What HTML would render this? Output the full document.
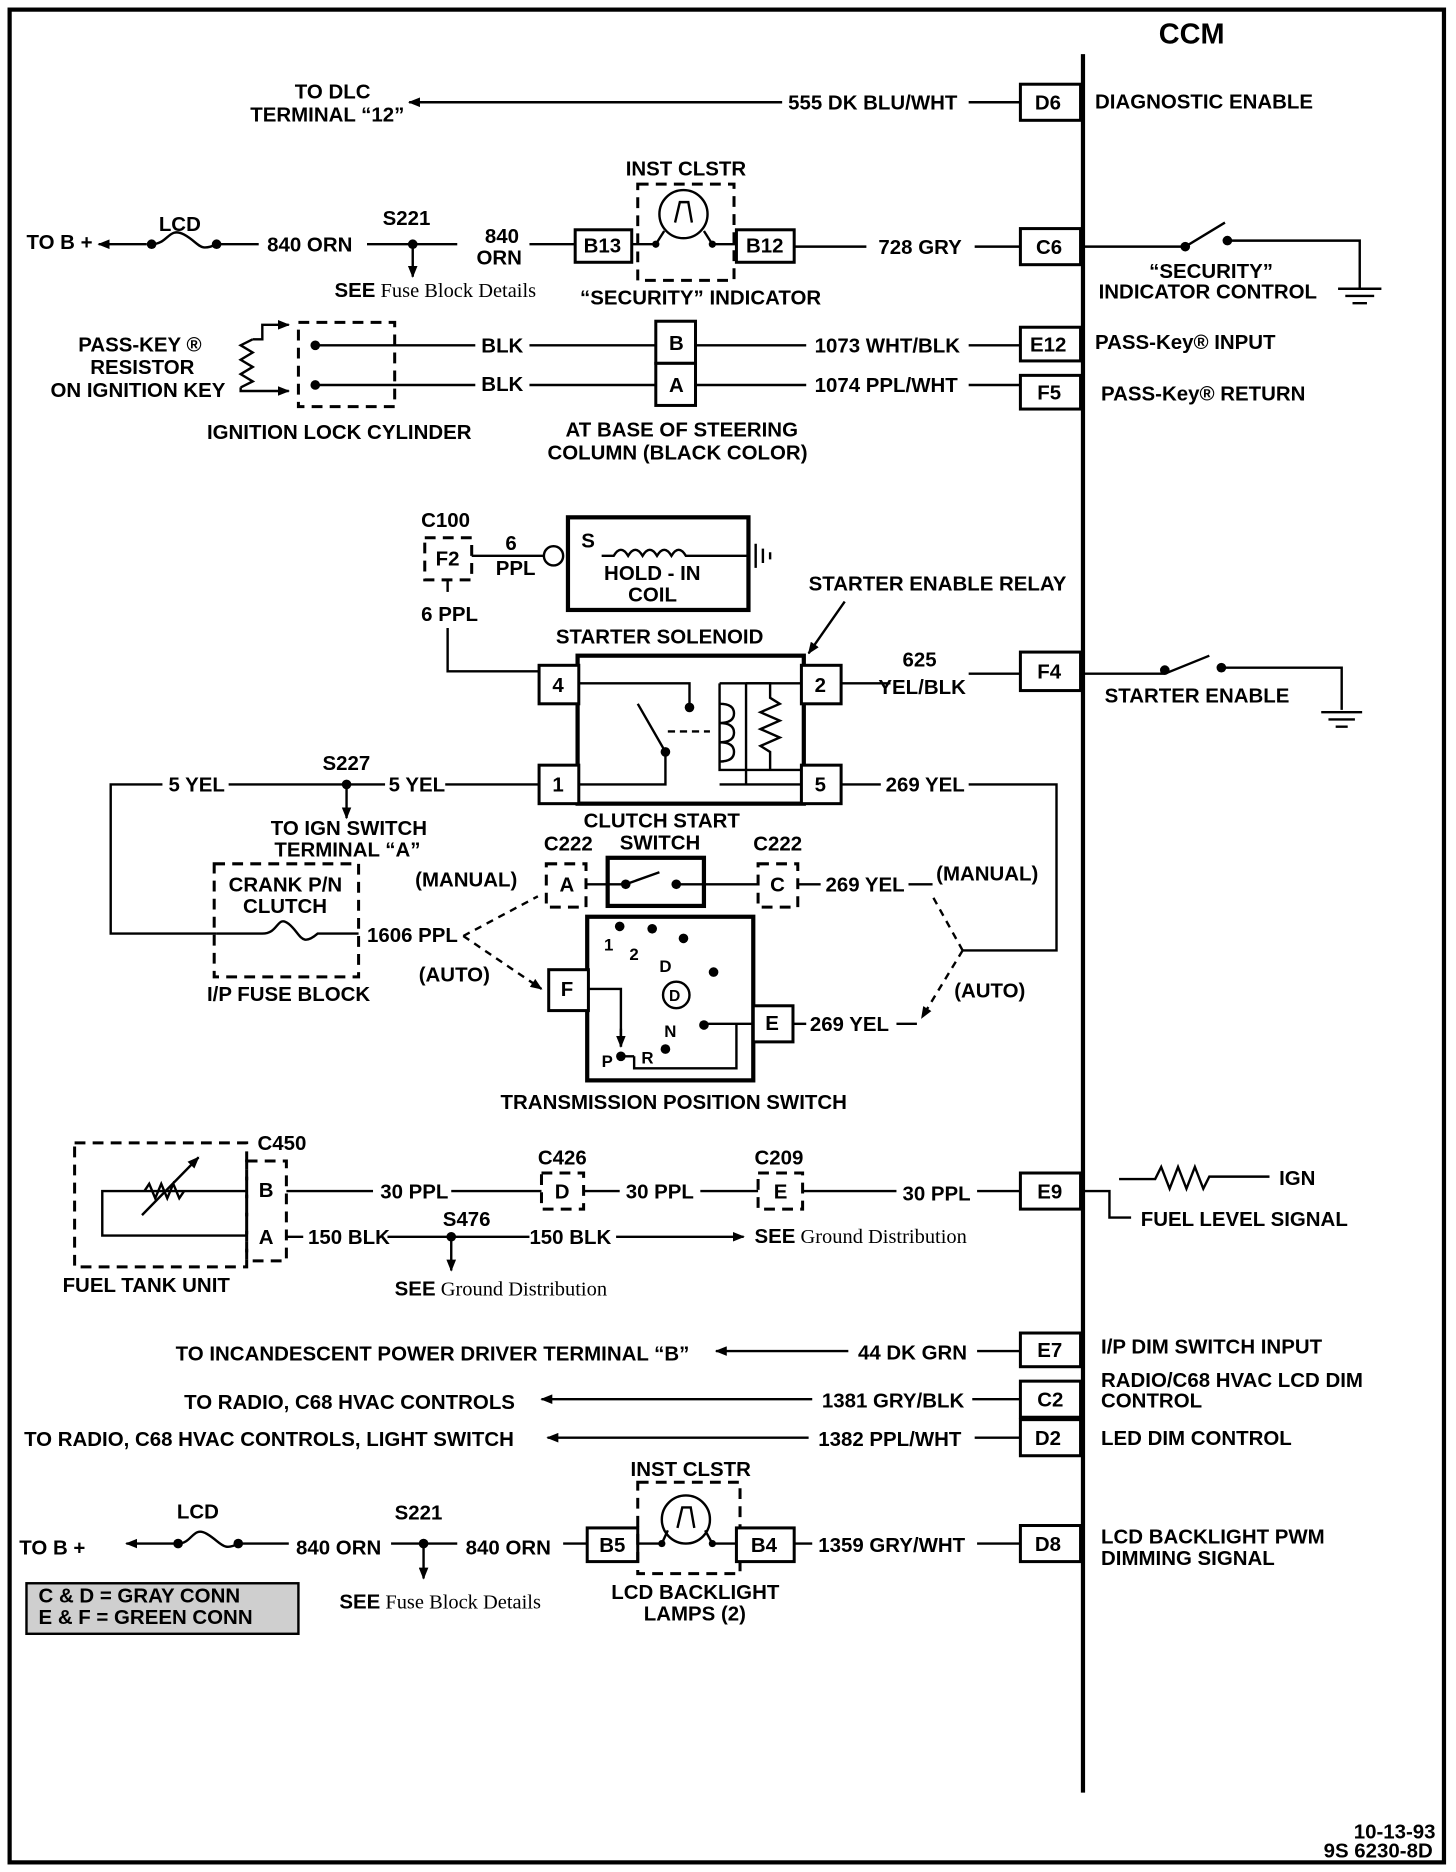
<!DOCTYPE html>
<html><head><meta charset="utf-8"><style>
html,body{margin:0;padding:0;background:#fff}
svg{display:block}
text{font-family:"Liberation Sans",sans-serif;font-weight:bold;font-size:17px;fill:#000}
.s{font-family:"Liberation Serif",serif;font-weight:normal;font-size:17px}
.l{stroke:#000;stroke-width:2;fill:none}
.t{stroke:#000;stroke-width:3.5;fill:none}
.d{stroke:#000;stroke-width:2.5;fill:none;stroke-dasharray:9 6}
.b{stroke:#000;stroke-width:2.5;fill:#fff}
</style></head><body>
<svg width="1456" height="1872" viewBox="0 0 1210 1556" preserveAspectRatio="none">
<defs><marker id="a" markerWidth="10" markerHeight="8" refX="9" refY="4" orient="auto" markerUnits="userSpaceOnUse"><path d="M0,0 L10,4 L0,8 z" fill="#000"/></marker></defs>
<rect x="8" y="8" width="1192" height="1540" class="t"/>
<line x1="900" y1="45" x2="900" y2="1490" class="t"/>
<text x="963" y="36" style="font-size:24px">CCM</text>
<g class="b">
<rect x="848" y="70" width="50" height="30"/><rect x="848" y="190" width="50" height="30"/>
<rect x="848" y="272" width="50" height="28"/><rect x="848" y="312" width="50" height="28"/>
<rect x="848" y="542" width="50" height="32"/><rect x="848" y="975" width="50" height="30"/>
<rect x="848" y="1108" width="50" height="28"/><rect x="848" y="1148" width="50" height="30"/>
<rect x="848" y="1180" width="50" height="30"/><rect x="848" y="1268" width="50" height="30"/>
</g>
<text x="860" y="91">D6</text><text x="861" y="211">C6</text><text x="856" y="292">E12</text><text x="862" y="332">F5</text>
<text x="862" y="564">F4</text><text x="862" y="996">E9</text><text x="862" y="1128">E7</text><text x="862" y="1169">C2</text>
<text x="860" y="1201">D2</text><text x="860" y="1289">D8</text>
<line x1="650" y1="85" x2="340" y2="85" class="l" marker-end="url(#a)"/>
<line x1="805" y1="85" x2="848" y2="85" class="l"/>
<text x="655" y="91">555 DK BLU/WHT</text>
<text x="245" y="82">TO DLC</text><text x="208" y="101">TERMINAL “12”</text>
<text x="910" y="90">DIAGNOSTIC ENABLE</text>
<text x="22" y="207">TO B +</text>
<line x1="122" y1="203" x2="82" y2="203" class="l" marker-end="url(#a)"/>
<path d="M126,203 C140,203 140,188 153,195 S165,210 180,203" class="l"/>
<circle cx="126" cy="203" r="4"/><circle cx="180" cy="203" r="4"/>
<text x="132" y="192">LCD</text>
<line x1="180" y1="203" x2="215" y2="203" class="l"/>
<text x="222" y="209">840 ORN</text>
<line x1="305" y1="203" x2="380" y2="203" class="l"/>
<circle cx="343" cy="203" r="4"/><text x="318" y="187">S221</text>
<line x1="343" y1="203" x2="343" y2="230" class="l" marker-end="url(#a)"/>
<text x="278" y="247" class="s"><tspan style="font-family:'Liberation Sans';font-weight:bold">SEE</tspan> Fuse Block Details</text>
<text x="403" y="202">840</text><text x="396" y="220">ORN</text>
<line x1="440" y1="203" x2="478" y2="203" class="l"/>
<rect x="478" y="191" width="47" height="27" class="b"/><text x="485" y="210">B13</text>
<rect x="530" y="153" width="80" height="80" class="d"/>
<circle cx="568" cy="178" r="20" class="l"/><path d="M561,185 L565,168 L572,168 L575,185" class="l"/>
<circle cx="545" cy="203" r="3"/><circle cx="592" cy="203" r="3"/>
<path d="M525,203 L545,203 L552,192 M592,203 L585,192 M592,203 L612,203" class="l"/>
<rect x="612" y="191" width="48" height="27" class="b"/><text x="620" y="210">B12</text>
<text x="520" y="146">INST CLSTR</text>
<text x="482" y="253">“SECURITY” INDICATOR</text>
<line x1="660" y1="205" x2="720" y2="205" class="l"/>
<text x="730" y="211">728 GRY</text>
<line x1="810" y1="205" x2="848" y2="205" class="l"/>
<path d="M900,205 L985,205 L1018,185 M1020,200 L1130,200 L1130,240" class="l"/>
<circle cx="985" cy="205" r="4"/><circle cx="1020" cy="200" r="4"/>
<path d="M1112,240 L1148,240 M1118,246 L1142,246 M1124,252 L1136,252" class="l"/>
<text x="955" y="231">“SECURITY”</text><text x="913" y="248">INDICATOR CONTROL</text>
<text x="65" y="292">PASS-KEY ®</text><text x="75" y="311">RESISTOR</text><text x="42" y="330">ON IGNITION KEY</text>
<path d="M210,282 L200,287 L210,293 L200,299 L210,305 L200,311 L210,317 L200,322" class="l"/>
<path d="M210,282 L218,282 L218,270 L240,270" class="l" marker-end="url(#a)"/>
<path d="M200,322 L200,325 L240,325" class="l" marker-end="url(#a)"/>
<rect x="248" y="268" width="80" height="70" class="d"/>
<circle cx="262" cy="287" r="4"/><circle cx="262" cy="320" r="4"/>
<line x1="262" y1="287" x2="395" y2="287" class="l"/><line x1="262" y1="320" x2="395" y2="320" class="l"/>
<text x="400" y="293">BLK</text><text x="400" y="325">BLK</text>
<line x1="440" y1="287" x2="545" y2="287" class="l"/><line x1="440" y1="320" x2="545" y2="320" class="l"/>
<rect x="545" y="267" width="33" height="35" class="b"/><rect x="545" y="302" width="33" height="35" class="b"/>
<text x="556" y="291">B</text><text x="556" y="326">A</text>
<line x1="578" y1="287" x2="670" y2="287" class="l"/><line x1="578" y1="320" x2="670" y2="320" class="l"/>
<text x="677" y="293">1073 WHT/BLK</text><text x="677" y="326">1074 PPL/WHT</text>
<line x1="805" y1="287" x2="848" y2="287" class="l"/><line x1="805" y1="320" x2="848" y2="320" class="l"/>
<text x="910" y="290">PASS-Key® INPUT</text><text x="915" y="333">PASS-Key® RETURN</text>
<text x="172" y="365">IGNITION LOCK CYLINDER</text>
<text x="470" y="363">AT BASE OF STEERING</text><text x="455" y="382">COLUMN (BLACK COLOR)</text>
<text x="350" y="438">C100</text>
<rect x="353" y="447" width="39" height="35" class="d"/><text x="362" y="470">F2</text>
<text x="420" y="457">6</text><text x="412" y="478">PPL</text>
<line x1="392" y1="462" x2="452" y2="462" class="l"/><circle cx="460" cy="462" r="8" class="l"/>
<rect x="472" y="430" width="150" height="77" class="t"/>
<text x="483" y="455">S</text>
<path d="M500,462 L510,462 q6,-10 12,0 q6,-10 12,0 q6,-10 12,0 q6,-10 12,0 q6,-10 12,0 L590,462 L622,462" class="l"/>
<path d="M622,448 L622,476 M628,452 L628,472 M634,456 L634,468 M640,459 L640,465" class="l"/>
<text x="502" y="482">HOLD - IN</text><text x="522" y="500">COIL</text>
<text x="462" y="535">STARTER SOLENOID</text>
<line x1="372" y1="482" x2="372" y2="492" class="l"/>
<text x="350" y="516">6 PPL</text>
<path d="M372,522 L372,558 L448,558" class="l"/>
<text x="672" y="491">STARTER ENABLE RELAY</text>
<line x1="702" y1="500" x2="672" y2="543" class="l" marker-end="url(#a)"/>
<rect x="480" y="545" width="188" height="123" class="t"/>
<g class="b"><rect x="448" y="553" width="33" height="32"/><rect x="666" y="553" width="33" height="32"/>
<rect x="448" y="636" width="33" height="32"/><rect x="666" y="636" width="33" height="32"/></g>
<text x="459" y="575">4</text><text x="677" y="575">2</text><text x="459" y="658">1</text><text x="677" y="658">5</text>
<path d="M481,568 L573,568 L573,588 M481,652 L553,652 L553,625 L530,585" class="l"/>
<circle cx="573" cy="588" r="4"/><circle cx="553" cy="625" r="4"/>
<path d="M555,608 L590,608" class="l" style="stroke-dasharray:6 4"/>
<path d="M598,568 L666,568 M598,568 L598,640 L666,640 M598,652 L666,652" class="l"/>
<path d="M598,585 q12,0 12,8 q0,8 -12,8 q12,0 12,8 q0,8 -12,8 q12,0 12,8 q0,8 -12,8" class="l"/>
<path d="M620,568 L620,652 M620,568 L640,568 L640,580 L648,585 L632,592 L648,599 L632,606 L648,613 L632,620 L640,625 L640,640" class="l"/>
<line x1="699" y1="568" x2="740" y2="568" class="l"/>
<text x="750" y="554">625</text><text x="730" y="577">YEL/BLK</text>
<line x1="805" y1="560" x2="848" y2="560" class="l"/>
<path d="M900,560 L968,560 L1005,545 M1015,555 L1115,555 L1115,590" class="l"/>
<circle cx="968" cy="557" r="4"/><circle cx="1015" cy="555" r="4"/>
<path d="M1098,592 L1132,592 M1104,598 L1126,598 M1110,604 L1120,604" class="l"/>
<text x="918" y="584">STARTER ENABLE</text>
<path d="M135,652 L92,652 L92,776 L180,776" class="l"/>
<text x="140" y="658">5 YEL</text>
<line x1="190" y1="652" x2="320" y2="652" class="l"/>
<circle cx="288" cy="652" r="4"/><text x="268" y="640">S227</text>
<line x1="288" y1="652" x2="288" y2="680" class="l" marker-end="url(#a)"/>
<text x="323" y="658">5 YEL</text><line x1="370" y1="652" x2="448" y2="652" class="l"/>
<line x1="699" y1="652" x2="732" y2="652" class="l"/>
<text x="736" y="658">269 YEL</text>
<path d="M805,652 L878,652 L878,790 L800,790" class="l"/>
<text x="225" y="694">TO IGN SWITCH</text><text x="228" y="712">TERMINAL “A”</text>
<text x="485" y="688">CLUTCH START</text><text x="515" y="706">SWITCH</text>
<rect x="178" y="718" width="120" height="94" class="d"/>
<text x="190" y="741">CRANK P/N</text><text x="202" y="759">CLUTCH</text>
<path d="M180,776 L218,776 C232,776 230,760 240,768 S250,788 264,776 L298,776" class="l"/>
<text x="305" y="783">1606 PPL</text>
<text x="172" y="832">I/P FUSE BLOCK</text>
<text x="452" y="707">C222</text><text x="626" y="707">C222</text>
<rect x="454" y="718" width="33" height="36" class="d"/><text x="465" y="741">A</text>
<rect x="630" y="718" width="33" height="36" class="d"/><text x="640" y="741">C</text>
<rect x="505" y="713" width="80" height="40" class="t"/>
<path d="M487,735 L520,735 L548,725 M562,735 L630,735" class="l"/>
<circle cx="520" cy="735" r="4"/><circle cx="562" cy="735" r="4"/>
<line x1="663" y1="735" x2="682" y2="735" class="l"/>
<text x="686" y="741">269 YEL</text>
<line x1="755" y1="735" x2="775" y2="735" class="l"/>
<text x="778" y="732">(MANUAL)</text><text x="345" y="737">(MANUAL)</text>
<path d="M385,778 L447,745 M385,778 L450,822" class="l" style="stroke-dasharray:6 5" marker-end="url(#a)"/>
<text x="348" y="816">(AUTO)</text>
<path d="M800,790 L775,745 M800,790 L766,846" class="l" style="stroke-dasharray:6 5" marker-end="url(#a)"/>
<text x="793" y="829">(AUTO)</text>
<rect x="488" y="762" width="138" height="136" class="t"/>
<rect x="456" y="806" width="33" height="34" class="b"/><text x="466" y="828">F</text>
<rect x="626" y="836" width="33" height="30" class="b"/><text x="636" y="856">E</text>
<line x1="659" y1="851" x2="670" y2="851" class="l"/><text x="673" y="857">269 YEL</text>
<line x1="745" y1="851" x2="762" y2="851" class="l"/>
<text x="502" y="790" style="font-size:14px">1</text><text x="523" y="798" style="font-size:14px">2</text>
<text x="548" y="808" style="font-size:14px">D</text><text x="552" y="862" style="font-size:14px">N</text>
<text x="500" y="887" style="font-size:14px">P</text><text x="533" y="884" style="font-size:14px">R</text>
<circle cx="562" cy="827" r="11" class="l"/><text x="556" y="832" style="font-size:13px">D</text>
<circle cx="515" cy="770" r="4"/><circle cx="542" cy="772" r="4"/><circle cx="568" cy="780" r="4"/>
<circle cx="593" cy="808" r="4"/><circle cx="585" cy="852" r="4"/><circle cx="553" cy="872" r="4"/><circle cx="516" cy="878" r="4"/>
<path d="M489,822 L516,822 L516,870 M516,878 L527,878 M626,851 L585,851 M612,851 L612,888 L527,888 L527,878" class="l"/>
<path d="M516,855 L516,870" class="l" marker-end="url(#a)"/>
<text x="416" y="922">TRANSMISSION POSITION SWITCH</text>
<rect x="62" y="950" width="143" height="103" class="d"/>
<path d="M205,990 L85,990 L85,1027 L205,1027" class="l"/>
<path d="M120,990 l4,-6 l5,12 l5,-12 l5,12 l5,-12 l5,12 l4,-6" class="l"/>
<line x1="118" y1="1010" x2="165" y2="962" class="l" marker-end="url(#a)"/>
<text x="214" y="956">C450</text>
<rect x="205" y="965" width="33" height="83" class="d"/>
<text x="215" y="995">B</text><text x="215" y="1034">A</text>
<line x1="238" y1="990" x2="310" y2="990" class="l"/><text x="316" y="996">30 PPL</text>
<line x1="375" y1="990" x2="450" y2="990" class="l"/>
<text x="447" y="968">C426</text><rect x="450" y="975" width="35" height="30" class="d"/><text x="461" y="996">D</text>
<line x1="485" y1="990" x2="515" y2="990" class="l"/><text x="520" y="996">30 PPL</text>
<line x1="582" y1="990" x2="630" y2="990" class="l"/>
<text x="627" y="968">C209</text><rect x="630" y="975" width="37" height="30" class="d"/><text x="643" y="996">E</text>
<line x1="667" y1="990" x2="745" y2="990" class="l"/><text x="750" y="998">30 PPL</text>
<line x1="812" y1="990" x2="848" y2="990" class="l"/>
<path d="M900,990 L922,990 L922,1012 L940,1012" class="l"/>
<path d="M930,980 L960,980 l5,-10 l7,18 l7,-18 l7,18 l7,-18 l7,18 l5,-10 L1055,978" class="l"/>
<text x="1063" y="985">IGN</text><text x="948" y="1019">FUEL LEVEL SIGNAL</text>
<line x1="238" y1="1028" x2="252" y2="1028" class="l"/><text x="256" y="1034">150 BLK</text>
<line x1="322" y1="1028" x2="440" y2="1028" class="l"/>
<circle cx="375" cy="1028" r="4"/><text x="368" y="1019">S476</text>
<line x1="375" y1="1028" x2="375" y2="1056" class="l" marker-end="url(#a)"/>
<text x="440" y="1034">150 BLK</text>
<line x1="512" y1="1028" x2="618" y2="1028" class="l" marker-end="url(#a)"/>
<text x="627" y="1033" class="s"><tspan style="font-family:'Liberation Sans';font-weight:bold">SEE</tspan> Ground Distribution</text>
<text x="328" y="1077" class="s"><tspan style="font-family:'Liberation Sans';font-weight:bold">SEE</tspan> Ground Distribution</text>
<text x="52" y="1074">FUEL TANK UNIT</text>
<text x="146" y="1131">TO INCANDESCENT POWER DRIVER TERMINAL “B”</text>
<line x1="705" y1="1123" x2="595" y2="1123" class="l" marker-end="url(#a)"/>
<text x="713" y="1130">44 DK GRN</text><line x1="812" y1="1123" x2="848" y2="1123" class="l"/>
<text x="153" y="1171">TO RADIO, C68 HVAC CONTROLS</text>
<line x1="675" y1="1163" x2="450" y2="1163" class="l" marker-end="url(#a)"/>
<text x="683" y="1170">1381 GRY/BLK</text><line x1="808" y1="1163" x2="848" y2="1163" class="l"/>
<text x="20" y="1202">TO RADIO,  C68 HVAC CONTROLS, LIGHT SWITCH</text>
<line x1="672" y1="1195" x2="455" y2="1195" class="l" marker-end="url(#a)"/>
<text x="680" y="1202">1382 PPL/WHT</text><line x1="810" y1="1195" x2="848" y2="1195" class="l"/>
<text x="915" y="1125">I/P DIM SWITCH INPUT</text><text x="915" y="1153">RADIO/C68 HVAC LCD DIM</text>
<text x="915" y="1170">CONTROL</text><text x="915" y="1201">LED DIM CONTROL</text>
<text x="16" y="1292">TO B +</text>
<line x1="145" y1="1283" x2="105" y2="1283" class="l" marker-end="url(#a)"/>
<path d="M148,1283 C160,1283 160,1268 172,1275 S185,1290 198,1283" class="l"/>
<circle cx="148" cy="1283" r="4"/><circle cx="198" cy="1283" r="4"/>
<text x="147" y="1262">LCD</text>
<line x1="198" y1="1283" x2="240" y2="1283" class="l"/><text x="246" y="1292">840 ORN</text>
<line x1="325" y1="1283" x2="380" y2="1283" class="l"/>
<circle cx="352" cy="1283" r="4"/><text x="328" y="1263">S221</text>
<line x1="352" y1="1283" x2="352" y2="1312" class="l" marker-end="url(#a)"/>
<text x="387" y="1292">840 ORN</text><line x1="468" y1="1283" x2="488" y2="1283" class="l"/>
<rect x="488" y="1270" width="42" height="28" class="b"/><text x="498" y="1290">B5</text>
<rect x="530" y="1232" width="85" height="76" class="d"/>
<circle cx="570" cy="1263" r="20" class="l"/><path d="M563,1270 L567,1253 L574,1253 L577,1270" class="l"/>
<circle cx="550" cy="1283" r="3"/><circle cx="592" cy="1283" r="3"/>
<path d="M530,1283 L550,1283 L555,1272 M592,1283 L586,1272 M592,1283 L612,1283" class="l"/>
<rect x="612" y="1270" width="48" height="28" class="b"/><text x="624" y="1290">B4</text>
<text x="524" y="1227">INST CLSTR</text>
<line x1="660" y1="1283" x2="675" y2="1283" class="l"/><text x="680" y="1290">1359 GRY/WHT</text>
<line x1="812" y1="1283" x2="848" y2="1283" class="l"/>
<text x="508" y="1329">LCD BACKLIGHT</text><text x="535" y="1347">LAMPS (2)</text>
<text x="282" y="1337" class="s"><tspan style="font-family:'Liberation Sans';font-weight:bold">SEE</tspan> Fuse Block Details</text>
<text x="915" y="1283">LCD BACKLIGHT PWM</text><text x="915" y="1301">DIMMING SIGNAL</text>
<rect x="22" y="1316" width="226" height="42" fill="#cfcfcf" stroke="#000" stroke-width="2"/>
<text x="32" y="1332">C &amp; D = GRAY CONN</text><text x="32" y="1350">E &amp; F = GREEN CONN</text>
<text x="1125" y="1528">10-13-93</text><text x="1100" y="1544">9S 6230-8D</text>
</svg>
</body></html>
